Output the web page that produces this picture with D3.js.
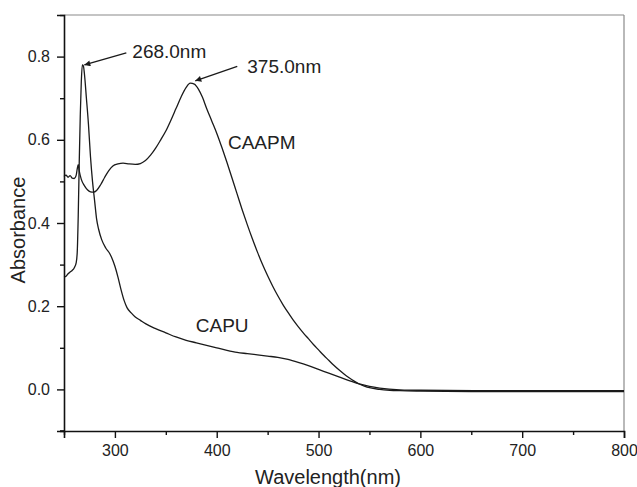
<!DOCTYPE html>
<html><head><meta charset="utf-8">
<script src="https://cdn.jsdelivr.net/npm/d3@7"></script>
<style>body{margin:0;background:#fff}text{font-family:"Liberation Sans",Arial,sans-serif;fill:#222}</style>
</head><body><svg id="c" width="637" height="487"></svg>
<script>
const caapmWl = [250,252,254,256,258,260,262,263,264,265,267,270,273,276,279,282,286,290,294,298,303,308,314,320,325,330,335,340,345,350,355,360,365,370,374,378,382,386,390,395,400,405,410,415,420,425,430,435,440,445,450,455,460,465,470,475,480,485,490,495,500,505,510,515,520,525,530,535,540,545,550,560,570,580,600,650,700,750,800];
const caapmAbs = [0.512,0.515,0.510,0.514,0.508,0.507,0.515,0.530,0.540,0.525,0.505,0.490,0.480,0.475,0.474,0.478,0.492,0.510,0.526,0.537,0.542,0.544,0.542,0.541,0.543,0.550,0.563,0.580,0.600,0.621,0.647,0.675,0.703,0.726,0.736,0.734,0.722,0.702,0.676,0.646,0.616,0.582,0.546,0.508,0.470,0.432,0.396,0.362,0.330,0.300,0.273,0.248,0.225,0.204,0.185,0.167,0.151,0.136,0.122,0.108,0.095,0.082,0.070,0.058,0.047,0.037,0.028,0.020,0.013,0.008,0.004,0.000,-0.002,-0.003,-0.004,-0.005,-0.005,-0.005,-0.005];
const capuWl = [250,252,254,256,258,260,262,263,264,265,266,267,268,269,270,272,274,276,278,280,282,284,287,291,295,298,300,303,306,309,312,316,320,325,330,340,350,360,370,380,390,400,410,420,430,440,450,460,470,480,490,500,510,520,530,540,550,560,580,600,700,800];
const capuAbs = [0.270,0.272,0.278,0.282,0.286,0.292,0.305,0.33,0.42,0.55,0.66,0.74,0.780,0.778,0.760,0.700,0.638,0.560,0.500,0.455,0.410,0.385,0.360,0.340,0.326,0.310,0.296,0.270,0.240,0.214,0.196,0.184,0.174,0.166,0.158,0.146,0.136,0.126,0.118,0.112,0.106,0.100,0.094,0.089,0.086,0.083,0.080,0.077,0.072,0.065,0.057,0.048,0.039,0.030,0.021,0.013,0.007,0.003,-0.001,-0.002,-0.003,-0.003];
const xMajor = [300,400,500,600,700,800];
const xMinor = [250,350,450,550,650,750];
const yMajor = [0.0,0.2,0.4,0.6,0.8];
const yMinor = [-0.1,0.1,0.3,0.5,0.7,0.9];
const peakLabels = ["268.0nm","375.0nm"];
const peakWl = [268,375];
const peakAbs = [0.780,0.737];
const seriesNames = ["CAAPM","CAPU"];
const seriesLabelWl = [411,379.4];
const seriesLabelAbs = [0.577,0.139];

const svg = d3.select("#c");
const L=64,R=624,T=15,B=431;
const x = d3.scaleLinear().domain([250,800]).range([L,R]);
const y = d3.scaleLinear().domain([-0.1,0.9]).range([B,T]);

// frame top/right (gray)
svg.append("line").attr("x1",L).attr("x2",R).attr("y1",T).attr("y2",T).attr("stroke","#8a8a8a").attr("stroke-width",1.2);
svg.append("line").attr("x1",R).attr("x2",R).attr("y1",T).attr("y2",B).attr("stroke","#8a8a8a").attr("stroke-width",1.2);

const line = d3.line().x(d=>x(d[0])).y(d=>y(d[1])).curve(d3.curveMonotoneX);
const g = svg.append("g");
g.append("path").datum(caapmWl.map((w,i)=>[w,caapmAbs[i]])).attr("d",line).attr("fill","none").attr("stroke","#1a1a1a").attr("stroke-width",1.3);
g.append("path").datum(capuWl.map((w,i)=>[w,capuAbs[i]])).attr("d",line).attr("fill","none").attr("stroke","#1a1a1a").attr("stroke-width",1.3);

// axes
const fmt = d3.format(".1f");
const xa = svg.append("g").attr("transform",`translate(0,${B})`).call(d3.axisBottom(x).tickValues(xMajor).tickSize(7).tickPadding(7).tickFormat(d3.format("d")));
const xm = svg.append("g").attr("transform",`translate(0,${B})`).call(d3.axisBottom(x).tickValues(xMinor).tickSize(4).tickFormat(""));
const ya = svg.append("g").attr("transform",`translate(${L},0)`).call(d3.axisLeft(y).tickValues(yMajor).tickSize(7).tickPadding(7).tickFormat(fmt));
const ym = svg.append("g").attr("transform",`translate(${L},0)`).call(d3.axisLeft(y).tickValues(yMinor).tickSize(4).tickFormat(""));
[xa,xm,ya,ym].forEach(a=>{a.selectAll("path").attr("stroke","#111").attr("stroke-width",1.6);a.selectAll("line").attr("stroke","#111").attr("stroke-width",1.4);a.selectAll("text").style("font-size","16px").style("font-family","Liberation Sans, Arial, sans-serif").attr("fill","#222");});
xm.select("path").remove(); ym.select("path").remove();
svg.append("line").attr("x1",L-4).attr("x2",L).attr("y1",B).attr("y2",B).attr("stroke","#111").attr("stroke-width",1.6);

// axis titles
svg.append("text").attr("x",328).attr("y",484).attr("text-anchor","middle").style("font-size","20px").text("Wavelength(nm)");
svg.append("text").attr("transform","translate(25,230) rotate(-90)").attr("text-anchor","middle").style("font-size","20px").text("Absorbance");

// arrow marker
svg.append("defs").append("marker").attr("id","ah").attr("viewBox","0 0 10 10").attr("refX",10).attr("refY",5)
  .attr("markerWidth",9).attr("markerHeight",6).attr("markerUnits","userSpaceOnUse").attr("orient","auto")
  .append("path").attr("d","M0,0L10,5L0,10z").attr("fill","#1a1a1a");

const tipOff = [[2,0],[4,-2]];
const tailOff = [[44,-12],[46,-16.5]];
const txtOff = [[50,-7],[56,-10]];
peakLabels.forEach((lab,i)=>{
  const px=x(peakWl[i]), py=y(peakAbs[i]);
  svg.append("line").attr("x1",px+tailOff[i][0]).attr("y1",py+tailOff[i][1]).attr("x2",px+tipOff[i][0]).attr("y2",py+tipOff[i][1])
    .attr("stroke","#1a1a1a").attr("stroke-width",1.3).attr("marker-end","url(#ah)");
  svg.append("text").attr("x",px+txtOff[i][0]).attr("y",py+txtOff[i][1]).style("font-size","19px").text(lab);
});
seriesNames.forEach((n,i)=>{
  svg.append("text").attr("x",x(seriesLabelWl[i])).attr("y",y(seriesLabelAbs[i])).style("font-size","19px").text(n);
});
</script></body></html>
